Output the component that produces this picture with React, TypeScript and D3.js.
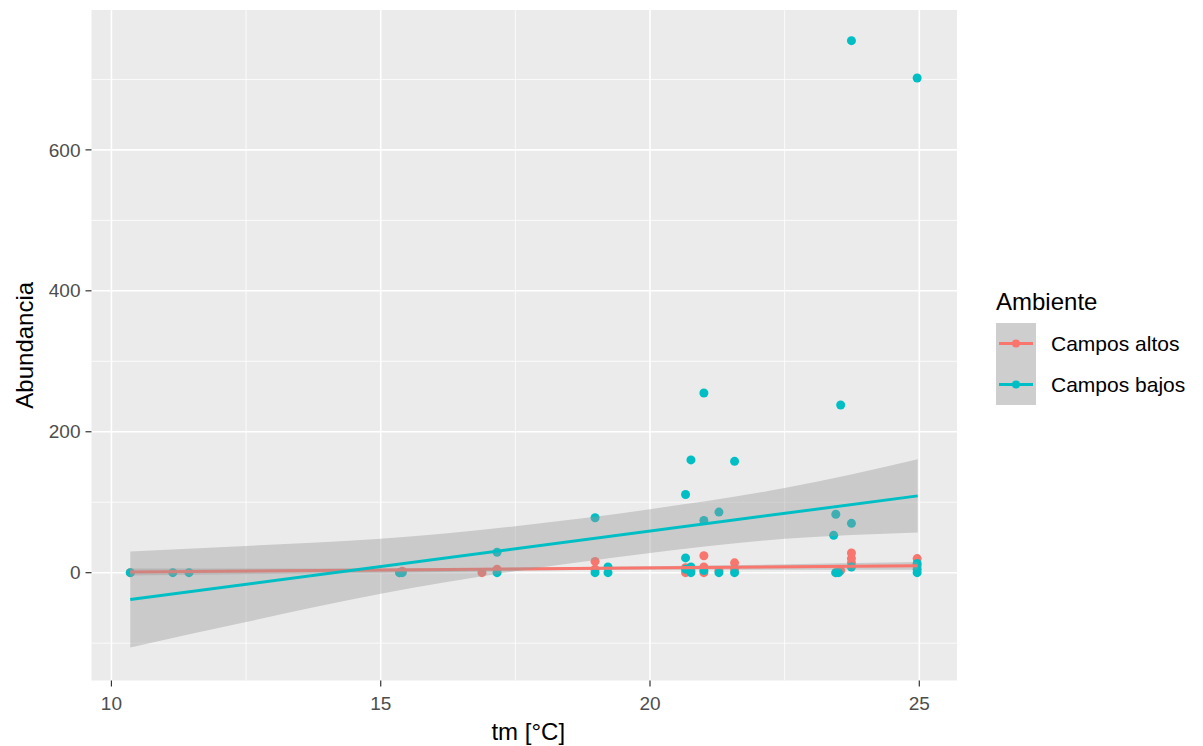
import React from "react";
import * as d3 from "d3";

// ---- Data ----
const groups = ["Campos altos", "Campos bajos"];
const groupColors = ["#F8766D", "#00BFC4"];

// Campos altos points
const altosX = [10.35, 15.35, 15.4, 16.88, 17.16, 18.98, 18.98, 20.66, 20.66, 20.76, 21.0, 21.0, 21.0, 21.28, 21.57, 21.57, 23.45, 23.54, 23.74, 23.74, 23.74, 24.96, 24.96];
const altosY = [0, 0, 2, 0, 5, 16, 5, 7, 0, 3, 24, 0, 8, 3, 14, 5, 0, 3, 14, 20, 28, 20, 10];

// Campos bajos points
const bajosX = [10.35, 11.14, 11.44, 15.35, 15.4, 17.16, 17.16, 18.98, 18.98, 19.22, 19.22, 20.66, 20.66, 20.66, 20.76, 20.76, 20.76, 21.0, 21.0, 21.0, 21.28, 21.28, 21.57, 21.57, 23.41, 23.45, 23.54, 23.45, 23.5, 23.74, 23.74, 23.74, 24.96, 24.96, 24.96, 24.96];
const bajosY = [0, 0, 0, 0, 0, 29, 0, 78, 0, 0, 8, 111, 21, 5, 160, 8, 0, 255, 74, 3, 86, 0, 158, 0, 53, 83, 238, 0, 0, 70, 755, 8, 702, 13, 5, 0];

// Linear fits
const fitX = [10.35, 24.97];
const altosFit = [1, 10];
const bajosFit = [-38, 109];

// Confidence ribbons
const altosRibX = [10.35, 15, 20, 24.97];
const altosRibLo = [-4, 0, 4, 4];
const altosRibHi = [6, 6, 9, 15];
const bajosRibX = [10.35, 12.5, 15, 17.5, 20, 22.5, 24.97];
const bajosRibLo = [-106, -70, -30, 2, 28, 48, 57];
const bajosRibHi = [30, 38, 48, 66, 90, 120, 161];

const xTicks = [10, 15, 20, 25];
const xMinor = [12.5, 17.5, 22.5];
const yTicks = [0, 200, 400, 600];
const yMinor = [-100, 100, 300, 500, 700];

const xTitle = "tm [°C]";
const yTitle = "Abundancia";
const legendTitle = "Ambiente";

export default function App() {
  const W = 1203, H = 746;
  const left = 91.5, right = 957, top = 10, bottom = 680.5;
  const x = d3.scaleLinear().domain([9.63, 25.7]).range([left, right]);
  const y = d3.scaleLinear().domain([-153, 798.5]).range([bottom, top]);
  const font = "'Liberation Sans', Arial, sans-serif";

  const line = d3.line<[number, number]>().x(d => x(d[0])).y(d => y(d[1]));
  const area = (xs: number[], lo: number[], hi: number[]) =>
    d3.area<number>()
      .x((_, i) => x(xs[i]))
      .y0((_, i) => y(lo[i]))
      .y1((_, i) => y(hi[i]))
      .curve(d3.curveMonotoneX)(xs.map((_, i) => i)) || "";

  const pointsA = altosX.map((v, i) => [v, altosY[i]] as [number, number]);
  const pointsB = bajosX.map((v, i) => [v, bajosY[i]] as [number, number]);
  const allPts = [
    ...pointsA.map(p => ({ p, c: groupColors[0] })),
    ...pointsB.map(p => ({ p, c: groupColors[1] })),
  ];

  const ribbonFill = "#999999";
  const fits = [
    { rib: area(altosRibX, altosRibLo, altosRibHi), fit: altosFit, c: groupColors[0] },
    { rib: area(bajosRibX, bajosRibLo, bajosRibHi), fit: bajosFit, c: groupColors[1] },
  ];

  return (
    <svg width={W} height={H} style={{ position: "absolute", left: 0, top: 0, background: "#fff" }} fontFamily={font}>
      <rect x={left} y={top} width={right - left} height={bottom - top} fill="#EBEBEB" />
      {xMinor.map(t => <line key={"xm" + t} x1={x(t)} x2={x(t)} y1={top} y2={bottom} stroke="#fff" strokeWidth={0.8} />)}
      {yMinor.map(t => <line key={"ym" + t} x1={left} x2={right} y1={y(t)} y2={y(t)} stroke="#fff" strokeWidth={0.8} />)}
      {xTicks.map(t => <line key={"xg" + t} x1={x(t)} x2={x(t)} y1={top} y2={bottom} stroke="#fff" strokeWidth={1.6} />)}
      {yTicks.map(t => <line key={"yg" + t} x1={left} x2={right} y1={y(t)} y2={y(t)} stroke="#fff" strokeWidth={1.6} />)}

      {allPts.map((d, i) => <circle key={"p" + i} cx={x(d.p[0])} cy={y(d.p[1])} r={4.5} fill={d.c} />)}

      {fits.map((f, i) => (
        <g key={"f" + i}>
          <path d={f.rib} fill={ribbonFill} fillOpacity={0.4} />
          <path d={line(fitX.map((v, j) => [v, f.fit[j]] as [number, number])) || ""} fill="none" stroke={f.c} strokeWidth={3} />
        </g>
      ))}

      {xTicks.map(t => (
        <g key={"xt" + t}>
          <line x1={x(t)} x2={x(t)} y1={bottom} y2={bottom + 6} stroke="#333" strokeWidth={1.2} />
          <text x={x(t)} y={bottom + 29} textAnchor="middle" fontSize={19} fill="#4D4D4D">{t}</text>
        </g>
      ))}
      {yTicks.map(t => (
        <g key={"yt" + t}>
          <line x1={left - 6} x2={left} y1={y(t)} y2={y(t)} stroke="#333" strokeWidth={1.2} />
          <text x={left - 11} y={y(t)} dy="0.35em" textAnchor="end" fontSize={19} fill="#4D4D4D">{t}</text>
        </g>
      ))}

      <text x={(left + right) / 2 + 4} y={740} textAnchor="middle" fontSize={24} fill="#000">{xTitle}</text>
      <text transform={`translate(${33},${(top + bottom) / 2}) rotate(-90)`} textAnchor="middle" fontSize={24} fill="#000">{yTitle}</text>

      <g>
        <text x={996} y={310} fontSize={24} fill="#000">{legendTitle}</text>
        {groups.map((g, i) => {
          const ky = 323 + i * 41;
          return (
            <g key={"lg" + i}>
              <rect x={996} y={ky} width={40} height={41} fill="#F2F2F2" />
              <rect x={996} y={ky} width={40} height={41} fill={ribbonFill} fillOpacity={0.4} />
              <line x1={999} x2={1033} y1={ky + 20.5} y2={ky + 20.5} stroke={groupColors[i]} strokeWidth={3} />
              <circle cx={1016} cy={ky + 20.5} r={4} fill={groupColors[i]} />
              <text x={1051} y={ky + 20.5} dy="0.35em" fontSize={21} fill="#000">{g}</text>
            </g>
          );
        })}
      </g>
    </svg>
  );
}
